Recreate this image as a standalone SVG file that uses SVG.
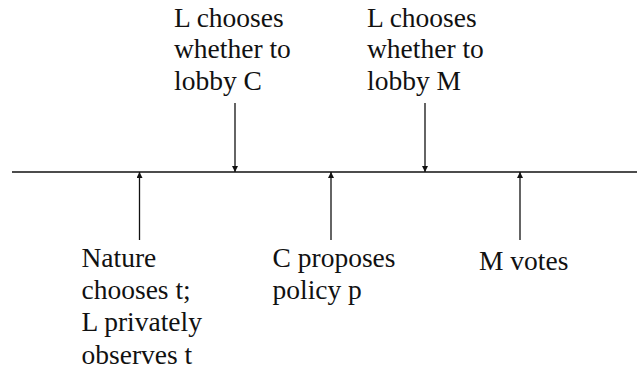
<svg xmlns="http://www.w3.org/2000/svg" width="637" height="372" viewBox="0 0 637 372">
<style>
.lbl{font-family:"Liberation Serif","Times New Roman",serif;font-size:27.5px;fill:#111}
.ln{stroke:#111;stroke-width:1.3;fill:none}
</style>
<defs>
<marker id="ah" viewBox="0 0 10 10" refX="10" refY="5" markerWidth="7" markerHeight="6" markerUnits="userSpaceOnUse" orient="auto">
<path d="M0,0 L10,5 L0,10 Z" fill="#111"/>
</marker>
</defs>
<rect width="637" height="372" fill="#fff"/>
<g id="connectors">
<line class="ln" x1="12" y1="172" x2="637" y2="172"/>
<line class="ln" x1="235" y1="103" x2="235" y2="172" marker-end="url(#ah)"/>
<line class="ln" x1="425" y1="103" x2="425" y2="172" marker-end="url(#ah)"/>
<line class="ln" x1="139.5" y1="240" x2="139.5" y2="172" marker-end="url(#ah)"/>
<line class="ln" x1="331" y1="240" x2="331" y2="172" marker-end="url(#ah)"/>
<line class="ln" x1="520" y1="240" x2="520" y2="172" marker-end="url(#ah)"/>
</g>
<g id="lobbyC">
<text class="lbl"><tspan x="174" y="26.5">L chooses</tspan><tspan x="174" y="58.3">whether to</tspan><tspan x="174" y="90">lobby C</tspan></text>
</g>
<g id="lobbyM">
<text class="lbl"><tspan x="367" y="26.5">L chooses</tspan><tspan x="367" y="58.3">whether to</tspan><tspan x="367" y="90">lobby M</tspan></text>
</g>
<g id="nature">
<text class="lbl"><tspan x="81.5" y="266.5">Nature</tspan><tspan x="81.5" y="299">chooses t;</tspan><tspan x="81.5" y="331">L privately</tspan><tspan x="81.5" y="363.5">observes t</tspan></text>
</g>
<g id="propose">
<text class="lbl"><tspan x="272.5" y="266.5">C proposes</tspan><tspan x="272.5" y="299">policy p</tspan></text>
</g>
<g id="vote">
<text class="lbl"><tspan x="479" y="269.5">M votes</tspan></text>
</g>
</svg>
